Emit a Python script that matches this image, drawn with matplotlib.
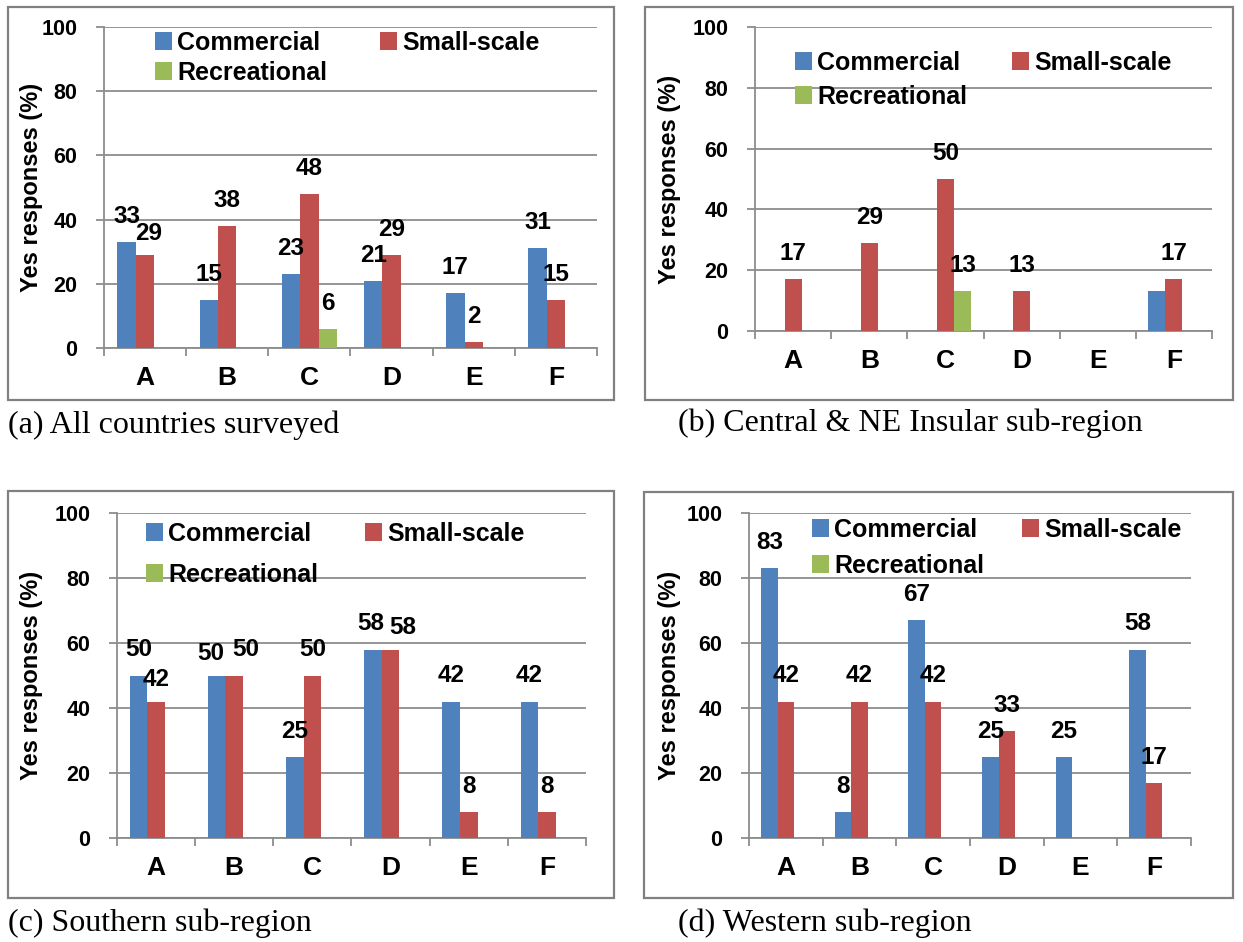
import matplotlib
matplotlib.use("Agg")
import matplotlib.pyplot as plt
from matplotlib.patches import Rectangle
import numpy as np

# ---- data -------------------------------------------------------------
categories = ["A", "B", "C", "D", "E", "F"]
series_names = ["Commercial", "Small-scale", "Recreational"]

all_commercial = [33, 15, 23, 21, 17, 31]
all_small = [29, 38, 48, 29, 2, 15]
all_recreational = [0, 0, 6, 0, 0, 0]

central_commercial = [0, 0, 0, 0, 0, 13]
central_small = [17, 29, 50, 13, 0, 17]
central_recreational = [0, 0, 13, 0, 0, 0]

southern_commercial = [50, 50, 25, 58, 42, 42]
southern_small = [42, 50, 50, 58, 8, 8]
southern_recreational = [0, 0, 0, 0, 0, 0]

western_commercial = [83, 8, 67, 25, 25, 58]
western_small = [42, 42, 42, 33, 0, 17]
western_recreational = [0, 0, 0, 0, 0, 0]

captions = ["(a) All countries surveyed",
            "(b) Central & NE Insular sub-region",
            "(c) Southern sub-region",
            "(d) Western sub-region"]
y_label = "Yes responses (%)"
y_ticks = [0, 20, 40, 60, 80, 100]

# bars whose value label is not shown: (panel, series, category)
unlabelled = {(1, 0, 5)}

panels = [
    (all_commercial, all_small, all_recreational),
    (central_commercial, central_small, central_recreational),
    (southern_commercial, southern_small, southern_recreational),
    (western_commercial, western_small, western_recreational),
]

# ---- style ------------------------------------------------------------
colors = ["#4F81BD", "#C0504D", "#9BBB59"]
grid_color = "#8C8C8C"
frame_color = "#808080"
plt.rcParams["font.family"] = ["Liberation Sans", "DejaVu Sans"]
plt.rcParams["font.weight"] = "bold"
FS_TICK = 15.5
FS_CAT = 19
FS_VAL = 17.5
FS_LEG = 18
FS_YLAB = 17
LEG_PX = FS_LEG * 100 / 72

W, H = 1243, 942
fig = plt.figure(figsize=(W / 100, H / 100), dpi=100)
fig.patch.set_facecolor("white")


def fx(px):
    return px / W


def fy(py):
    return 1 - py / H


# pixel layout of each panel: axes box, outer frame, caption anchor,
# y-label distance from the axis, legend (marker left, row 1 centre,
# row 2 centre, column 2 marker left)
layout = [
    dict(ax=(104, 27, 597, 348), frame=(8, 7, 614, 400), cap=(8, 425),
         yl=72, leg=(155, 41, 71, 380)),
    dict(ax=(755, 27, 1212, 331), frame=(645, 7, 1233, 400), cap=(678, 423),
         yl=85, leg=(795, 61, 95, 1012)),
    dict(ax=(117, 513, 586, 838), frame=(8, 491, 614, 898), cap=(8, 923),
         yl=85, leg=(146, 532, 573, 365)),
    dict(ax=(749, 513, 1191, 838), frame=(644, 492, 1233, 898), cap=(678, 923),
         yl=80, leg=(812, 528, 564, 1022)),
]

# nudges (dx, dy in px) for value labels that sit side by side
nudges = {(0, 1, 0): (4, -4), (2, 1, 0): (0, -4), (2, 0, 1): (-6, -4),
          (2, 1, 1): (12, 0), (2, 0, 3): (-2, 1), (2, 1, 3): (12, -4)}

x = np.arange(len(categories))
bw = 0.225
renderer = fig.canvas.get_renderer()
PT = 0.72  # points per pixel at 100 dpi

for p, (data, lay) in enumerate(zip(panels, layout)):
    l, t, r, b = lay["ax"]
    ax = fig.add_axes([fx(l), fy(b), fx(r) - fx(l), fy(t) - fy(b)])
    ax.set_facecolor("none")

    handles = []
    for s, vals in enumerate(data):
        offs = (s - 1) * bw
        bars = ax.bar(x + offs, vals, width=bw, color=colors[s],
                      label=series_names[s], zorder=3)
        handles.append(bars)
        for c, v in enumerate(vals):
            if v == 0 or (p, s, c) in unlabelled:
                continue
            dx, dy = nudges.get((p, s, c), (0, 0))
            ax.annotate(f"{v:g}", (x[c] + offs, v),
                        xytext=(dx * PT, (14 + dy) * PT),
                        textcoords="offset points", ha="center", va="bottom",
                        fontsize=FS_VAL, fontweight="bold", zorder=4)

    ax.set_xlim(-0.5, len(categories) - 0.5)
    ax.set_ylim(0, 100)
    ax.set_yticks(y_ticks)
    ax.set_yticklabels([str(v) for v in y_ticks], fontsize=FS_TICK,
                       fontweight="bold")
    ax.set_xticks(x)
    ax.set_xticklabels(categories, fontsize=FS_CAT, fontweight="bold")
    ax.set_xticks(np.arange(-0.5, len(categories)), minor=True)
    ax.tick_params(axis="x", which="major", length=0, pad=13)
    ax.tick_params(axis="x", which="minor", length=6, width=1.3,
                   color=grid_color, direction="out")
    ax.tick_params(axis="y", which="major", length=6, width=1.3,
                   color=grid_color, direction="out", pad=13)
    ax.yaxis.grid(True, color=grid_color, linewidth=1.3, zorder=0)
    ax.set_axisbelow(True)
    for side in ("top", "right"):
        ax.spines[side].set_visible(False)
    for side in ("left", "bottom"):
        ax.spines[side].set_color(grid_color)
        ax.spines[side].set_linewidth(1.3)
    ax.set_ylabel(y_label, fontsize=FS_YLAB, fontweight="bold", va="center")
    ax.yaxis.set_label_coords(-lay["yl"] / (r - l), 0.5)

    # legend in row-major order (Commercial, Small-scale / Recreational)
    order = [handles[0], handles[2], handles[1]]
    mx, row1, row2, col2 = lay["leg"]
    ls, cs = 0.0, 1.0
    anchor = [fx(mx), fy(row1 - 12)]
    for _ in range(3):
        leg = ax.legend(order, [h.get_label() for h in order], ncol=2,
                        loc="upper left", bbox_to_anchor=tuple(anchor),
                        bbox_transform=fig.transFigure, frameon=False,
                        borderpad=0, borderaxespad=0, handlelength=0.68,
                        handleheight=0.68, handletextpad=0.2,
                        labelspacing=ls, columnspacing=cs,
                        prop=dict(size=FS_LEG, weight="bold"))
        fig.canvas.draw()
        hb = [h.get_window_extent(renderer) for h in leg.legend_handles]
        c1x, c1y = hb[0].x0, H - (hb[0].y0 + hb[0].y1) / 2
        r2y = H - (hb[1].y0 + hb[1].y1) / 2
        c2x = hb[2].x0
        ls += ((row2 - row1) - (r2y - c1y)) / LEG_PX
        cs += ((col2 - mx) - (c2x - c1x)) / LEG_PX
        anchor[0] += (mx - c1x) / W
        anchor[1] -= (row1 - c1y) / H

    fl, ft, fr, fb = lay["frame"]
    fig.patches.append(Rectangle((fx(fl), fy(fb)), fx(fr) - fx(fl),
                                 fy(ft) - fy(fb), transform=fig.transFigure,
                                 fill=False, edgecolor=frame_color,
                                 linewidth=1.6, zorder=0))
    cx, cy = lay["cap"]
    fig.text(fx(cx), fy(cy), captions[p], ha="left", va="center",
             fontsize=23, fontweight="normal",
             family=["Liberation Serif", "DejaVu Serif"])

fig.savefig("out.png", dpi=100, facecolor="white")
